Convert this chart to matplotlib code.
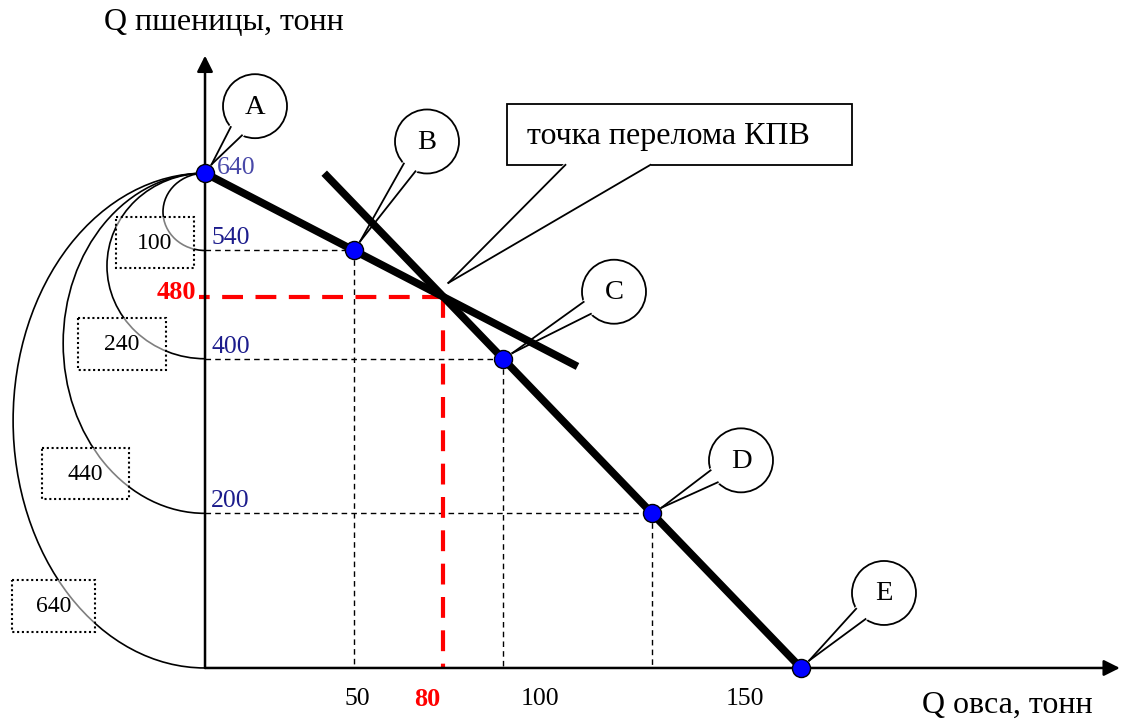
import matplotlib.pyplot as plt
from matplotlib.patches import Arc, Circle, Polygon, Rectangle
from matplotlib.transforms import Affine2D
import numpy as np

plt.rcParams['font.family'] = ['Liberation Serif', 'DejaVu Serif']

# production possibilities data (tonnes)
point_names = ['A', 'B', 'C', 'D', 'E']
points_x = [0, 50, 100, 150, 200]      # oats
points_y = [640, 540, 400, 200, 0]     # wheat
break_x, break_y = 80, 480
shallow_x = [0, 125]
shallow_y = [640, 390]
steep_x = [40, 200]
steep_y = [640, 0]
arc_levels = [540, 400, 200, 0]
arc_losses = ['100', '240', '440', '640']
x_tick_values = [50, 80, 100, 150]
y_tick_values = [540, 400, 200]

W, H = 1124, 719
fig = plt.figure(figsize=(W / 100, H / 100), dpi=100)
ax = fig.add_axes([0, 0, 1, 1])
ax.set_xlim(-68.8, 308.4)
ax.set_ylim(-66, 864)
ax.axis('off')

# pixel transform, origin top-left
px = Affine2D().scale(1, -1).translate(0, H)


def to_px(x, y):
    dx, dy = ax.transData.transform((x, y))
    return dx, H - dy


# axes with arrows
arrow = dict(arrowstyle='-|>', lw=1.8, color='black', mutation_scale=24,
             shrinkA=0, shrinkB=0)
ax.annotate('', xy=(0, 792), xytext=(0, 0), arrowprops=arrow)
ax.annotate('', xy=(307, 0), xytext=(0, 0), arrowprops=arrow)

# thin dashed guides
for x, y in zip(points_x[1:4], points_y[1:4]):
    ax.plot([0, x], [y, y], color='black', lw=1, dashes=(4, 3), zorder=2)
    ax.plot([x, x], [y, 0], color='black', lw=1, dashes=(4, 3), zorder=2)

# red dashed guides to the break point
ax.plot([break_x, -2], [break_y, break_y], color='red', lw=3, dashes=(5, 3), zorder=2)
ax.plot([break_x, break_x], [break_y, 0], color='red', lw=3, dashes=(5, 3), zorder=2)

# the two PPF segments
ax.plot(shallow_x, shallow_y, color='black', lw=5.5, solid_capstyle='butt', zorder=3)
ax.plot(steep_x, steep_y, color='black', lw=5.5, solid_capstyle='butt', zorder=3)

ax.plot(points_x, points_y, 'o', ms=13, mfc='#0000ff', mec='black', mew=1, zorder=6)

# opportunity cost arcs and boxes
arc_half_width = [14.1, 32.9, 47.6, 64.4]
boxes = [(116, 217, 194, 268), (78, 318, 166, 370), (42, 448, 129, 499), (12, 580, 95, 632)]
for level, hw in zip(arc_levels, arc_half_width):
    ax.add_patch(Arc((0, (640 + level) / 2), 2 * hw, 640 - level, theta1=90, theta2=270,
                     lw=1.2, color='black', zorder=2))
for (x0, y0, x1, y1), txt in zip(boxes, arc_losses):
    ax.add_patch(Rectangle((x0, y0), x1 - x0, y1 - y0, transform=px, facecolor=(1, 1, 1, 0.5),
                           edgecolor='black', lw=1.5, ls=(0, (1, 1.3)), zorder=4))
    ax.text((x0 + x1) / 2, (y0 + y1) / 2 + 1, txt, transform=px, ha='center', va='center',
            fontsize=17, zorder=5)

# value labels on the wheat axis
ax0, ay0 = to_px(0, 640)
ax.text(ax0 + 12, ay0 - 5, '640', transform=px, color='#4848a8', fontsize=18.5,
        ha='left', va='center')
for v in y_tick_values:
    _, yy = to_px(0, v)
    ax.text(ax0 + 6, yy - 12, str(v), transform=px, color='#1c1c8c', fontsize=18.5,
            ha='left', va='center')
_, yb = to_px(0, break_y)
ax.text(ax0 - 9, yb - 4, str(break_y), transform=px, color='red', fontsize=19,
        fontweight='bold', ha='right', va='center')

# oat axis labels (placed as in the original sketch)
x_label_shift = [3, -16, 37, 93]
for v, s in zip(x_tick_values, x_label_shift):
    xx, _ = to_px(v, 0)
    if v == break_x:
        ax.text(xx + s, 699, str(v), transform=px, color='red', fontsize=19,
                fontweight='bold', ha='center', va='center')
    else:
        ax.text(xx + s, 699, str(v), transform=px, fontsize=18.5, ha='center', va='center')

ax.text(104, 23, 'Q пшеницы, тонн', transform=px, fontsize=23, ha='left', va='center')
ax.text(1093, 705, 'Q овса, тонн', transform=px, fontsize=23, ha='right', va='center')


def tail(base1, base2, tip):
    ax.add_patch(Polygon([base1, tip, base2], closed=True, transform=px, facecolor='white',
                         edgecolor='white', lw=2.5, zorder=1.5))
    for b in (base1, base2):
        ax.plot([b[0], tip[0]], [b[1], tip[1]], transform=px, color='black', lw=1.3, zorder=1.6)


# circle callouts for points
circle_offsets = [(50, -67), (73, -109), (111, -67), (89, -53), (83, -75)]
r = 32
for name, x, y, (ox, oy) in zip(point_names, points_x, points_y, circle_offsets):
    pxx, pyy = to_px(x, y)
    cx, cy = pxx + ox, pyy + oy
    ax.add_patch(Circle((cx, cy), r, transform=px, facecolor='white', edgecolor='black',
                        lw=1.3, zorder=1.4))
    d = np.hypot(ox, oy)
    tip = (pxx + ox / d * 11, pyy + oy / d * 11)
    ang = np.arctan2(-oy, -ox)
    b1 = (cx + r * np.cos(ang - 0.22), cy + r * np.sin(ang - 0.22))
    b2 = (cx + r * np.cos(ang + 0.22), cy + r * np.sin(ang + 0.22))
    tail(b1, b2, tip)
    ax.text(cx, cy + 1, name, transform=px, fontsize=20.5, ha='center', va='center', zorder=1.7)

# break point callout
bx, by = to_px(break_x, break_y)
rl, rt, rr, rb = bx + 64, by - 193, bx + 409, by - 132
ax.add_patch(Rectangle((rl, rt), rr - rl, rb - rt, transform=px, facecolor='white',
                       edgecolor='black', lw=1.3, zorder=1.4))
tail((bx + 122, rb), (bx + 207, rb), (bx + 5, by - 14))
ax.text(rl + 20, (rt + rb) / 2 + 2, 'точка перелома КПВ', transform=px, fontsize=23,
        ha='left', va='center', zorder=1.7)

fig.savefig('out.png', dpi=100)
